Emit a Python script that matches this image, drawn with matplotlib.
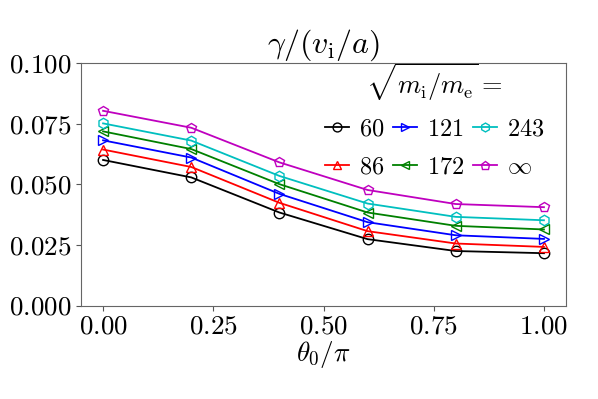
import matplotlib
matplotlib.use("Agg")
import matplotlib.pyplot as plt
from matplotlib.ticker import FuncFormatter

plt.rcParams['mathtext.fontset'] = 'cm'
plt.rcParams['font.family'] = 'serif'
plt.rcParams['font.serif'] = ['cmr10', 'DejaVu Serif']
plt.rcParams['axes.unicode_minus'] = False

theta = [0.0, 0.2, 0.4, 0.6, 0.8, 1.0]
gamma_60 = [0.0601, 0.0529, 0.0384, 0.0274, 0.0225, 0.0216]
gamma_86 = [0.0644, 0.0572, 0.0424, 0.0307, 0.0256, 0.0242]
gamma_121 = [0.0682, 0.0611, 0.0461, 0.0344, 0.0290, 0.0275]
gamma_172 = [0.0719, 0.0646, 0.0501, 0.0384, 0.0329, 0.0314]
gamma_243 = [0.0752, 0.0681, 0.0535, 0.0421, 0.0366, 0.0352]
gamma_inf = [0.0804, 0.0734, 0.0591, 0.0477, 0.0419, 0.0406]

labels = ['$60$', '$86$', '$121$', '$172$', '$243$', r'$\infty$']
series = [gamma_60, gamma_86, gamma_121, gamma_172, gamma_243, gamma_inf]
colors = ['k', 'r', 'b', 'g', 'c', 'm']
markers = ['o', '^', '>', '<', 'h', 'p']

fig = plt.figure(figsize=(5.98, 3.99), dpi=100)
ax = fig.add_axes([0.1355, 0.2343, 0.811, 0.607])

for y, lab, c, m in zip(series, labels, colors, markers):
    ax.plot(theta, y, color=c, marker=m, fillstyle='none', markersize=7.5,
            linewidth=1.3, label=lab)

ax.set_ylim(0, 0.1)
ax.set_xticks([0, 0.25, 0.5, 0.75, 1.0])
ax.set_yticks([0, 0.025, 0.05, 0.075, 0.1])
ax.xaxis.set_major_formatter(FuncFormatter(lambda v, p: '$%.2f$' % v))
ax.yaxis.set_major_formatter(FuncFormatter(lambda v, p: '$%.3f$' % v))
ax.tick_params(labelsize=19.5, color='#555555')
for s in ax.spines.values():
    s.set_color('#666666')

ax.set_title(r'$\gamma/(v_\mathrm{i}/a)$', fontsize=23, pad=2)
ax.set_xlabel(r'$\theta_0/\pi$', fontsize=19.5, labelpad=0)

# legend order: column-wise 60/86, 121/172, 243/inf
leg = ax.legend(ncol=3, loc='upper right', bbox_to_anchor=(0.975, 1.05),
                frameon=False, fontsize=17.5,
                title=r'$\sqrt{m_\mathrm{i}/m_\mathrm{e}} =$', title_fontsize=19,
                handlelength=1.0, handletextpad=0.4, columnspacing=0.35,
                labelspacing=0.65, borderaxespad=0.0, markerscale=0.85)

fig.savefig('out.png', dpi=100)
